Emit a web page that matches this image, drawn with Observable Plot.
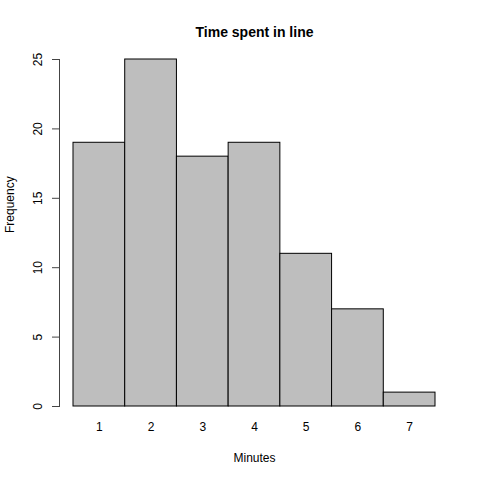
<!DOCTYPE html>
<html>
<head>
<meta charset="utf-8">
<script src="https://cdn.jsdelivr.net/npm/d3@7"></script>
<script src="https://cdn.jsdelivr.net/npm/@observablehq/plot@0.6"></script>
<style>
  body { margin: 0; background: #fff; }
  svg { display: block; }
</style>
</head>
<body>
<div id="chart"></div>
<script>
const minutes = [1, 2, 3, 4, 5, 6, 7];
const frequency = [19, 25, 18, 19, 11, 7, 1];
const yTicks = [0, 5, 10, 15, 20, 25];
const titleText = "Time spent in line";
const xLabel = "Minutes";
const yLabel = "Frequency";

const data = minutes.map((m, i) => ({minute: m, count: frequency[i]}));
const font = "'Liberation Sans', Arial, Helvetica, sans-serif";

const chart = Plot.plot({
  width: 480,
  height: 480,
  marginLeft: 73,
  marginRight: 45,
  marginTop: 59,
  marginBottom: 74,
  style: {fontFamily: font, fontSize: "12px", color: "#000", background: "#fff"},
  x: {type: "band", domain: minutes, padding: 0, round: false, axis: null},
  y: {domain: [0, 25], axis: null},
  marks: [
    Plot.barY(data, {x: "minute", y: "count", fill: "#bebebe", stroke: "#000", strokeWidth: 1}),
    Plot.frame({anchor: "left", dx: -14, stroke: "#444"}),
    Plot.axisY({ticks: yTicks, tickSize: 7, dx: -14, tickRotate: -90, tickPadding: 11, label: null, fontSize: 12, stroke: "#444"}),
    Plot.axisX({tickSize: 0, tickPadding: 16, label: null, fontSize: 12}),
    Plot.text([titleText], {frameAnchor: "top", dy: -32, fontWeight: "bold", fontSize: 14}),
    Plot.text([xLabel], {frameAnchor: "bottom", dy: 55, fontSize: 12}),
    Plot.text([yLabel], {frameAnchor: "left", dx: -63, rotate: -90, fontSize: 12})
  ]
});
document.getElementById("chart").appendChild(chart);
</script>
</body>
</html>
